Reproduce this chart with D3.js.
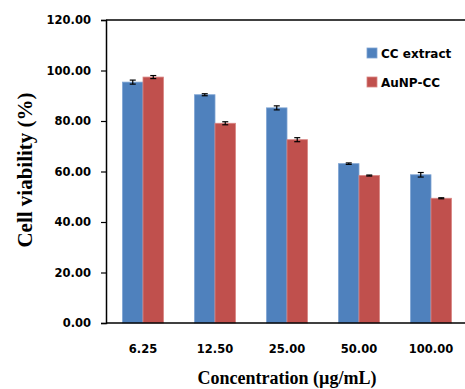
<!DOCTYPE html>
<html>
<head>
<meta charset="utf-8">
<script src="https://cdn.jsdelivr.net/npm/d3@7"></script>
<style>
  body { margin: 0; background: #fff; }
  svg { display: block; }
  .tick text { font-family: "DejaVu Sans", sans-serif; font-weight: bold; }
</style>
</head>
<body>
<div id="chart"></div>
<script>
// Data.
const concentrations = ["6.25", "12.50", "25.00", "50.00", "100.00"];
const seriesNames = ["CC extract", "AuNP-CC"];
const ccExtract = [95.4, 90.4, 85.2, 63.1, 58.7];
const ccExtractErr = [0.8, 0.4, 0.8, 0.3, 0.9];
const aunpCC = [97.4, 79.1, 72.6, 58.4, 49.4];
const aunpCCErr = [0.6, 0.6, 0.8, 0.2, 0.2];
const yTicks = [0, 20, 40, 60, 80, 100, 120];

const colors = ["#4f81bd", "#c0504d"];
const edges = ["#7ea3d3", "#d98583"];

const width = 465;
const height = 389;
const plotLeft = 106;
const plotTop = 20;
const plotBottom = 323;

const svg = d3.select("#chart")
  .append("svg")
    .attr("width", width)
    .attr("height", height);

const x = d3.scaleBand()
  .domain(concentrations)
  .range([plotLeft + 1, plotLeft + 1 + 72 * concentrations.length])
  .padding(0);

const xSub = d3.scaleBand()
  .domain(seriesNames)
  .range([15.5, 56.5]);

const y = d3.scaleLinear()
  .domain([0, 120])
  .range([plotBottom, plotTop]);

// Top border of plot area.
svg.append("line")
  .attr("x1", plotLeft).attr("x2", width)
  .attr("y1", y(120)).attr("y2", y(120))
  .attr("stroke", "#000")
  .attr("stroke-width", 1.5);

// Bars
const rows = concentrations.map((c, i) => ({
  c,
  vals: [
    { s: seriesNames[0], v: ccExtract[i], e: ccExtractErr[i], k: 0 },
    { s: seriesNames[1], v: aunpCC[i], e: aunpCCErr[i], k: 1 },
  ],
}));

const groups = svg.append("g")
  .selectAll("g")
  .data(rows)
  .join("g")
    .attr("transform", d => `translate(${x(d.c)},0)`);

groups.selectAll("rect")
  .data(d => d.vals)
  .join("rect")
    .attr("x", d => xSub(d.s))
    .attr("y", d => y(d.v))
    .attr("width", xSub.bandwidth())
    .attr("height", d => y(0) - y(d.v))
    .attr("fill", d => colors[d.k])
    .attr("stroke", d => edges[d.k])
    .attr("stroke-width", 0.8);

// Error bars
const err = groups.selectAll("g.err")
  .data(d => d.vals)
  .join("g")
    .attr("class", "err")
    .attr("stroke", "#000")
    .attr("stroke-width", 1.2);

err.append("line")
  .attr("x1", d => xSub(d.s) + xSub.bandwidth() / 2)
  .attr("x2", d => xSub(d.s) + xSub.bandwidth() / 2)
  .attr("y1", d => y(d.v + d.e))
  .attr("y2", d => y(d.v - d.e));

["+", "-"].forEach(sign => {
  err.append("line")
    .attr("x1", d => xSub(d.s) + xSub.bandwidth() / 2 - 3)
    .attr("x2", d => xSub(d.s) + xSub.bandwidth() / 2 + 3)
    .attr("y1", d => y(sign === "+" ? d.v + d.e : d.v - d.e))
    .attr("y2", d => y(sign === "+" ? d.v + d.e : d.v - d.e));
});

// Y axis
const yAxis = svg.append("g")
  .attr("transform", `translate(${plotLeft},0)`)
  .call(d3.axisLeft(y).tickValues(yTicks).tickFormat(d3.format(".2f")).tickSize(5).tickPadding(10));
yAxis.select(".domain").attr("stroke-width", 1.5);
yAxis.selectAll(".tick line").attr("stroke-width", 1.2);
yAxis.selectAll(".tick text").attr("font-size", 11.5).attr("fill", "#000");

// X axis (no ticks)
const xAxis = svg.append("g")
  .attr("transform", `translate(0,${plotBottom})`)
  .call(d3.axisBottom(x).tickSize(0).tickPadding(22));
xAxis.select(".domain")
  .attr("d", `M${plotLeft},0H${width}`)
  .attr("stroke-width", 1.5);
xAxis.selectAll(".tick text").attr("font-size", 11.5).attr("fill", "#000");

// Axis titles
svg.append("text")
  .attr("transform", `translate(32,170) rotate(-90)`)
  .attr("text-anchor", "middle")
  .attr("font-family", "Liberation Serif, serif")
  .attr("font-weight", "bold")
  .attr("font-size", 21)
  .text("Cell viability (%)");

svg.append("text")
  .attr("x", 287)
  .attr("y", 384)
  .attr("text-anchor", "middle")
  .attr("font-family", "Liberation Serif, serif")
  .attr("font-weight", "bold")
  .attr("font-size", 18)
  .text("Concentration (\u00b5g/mL)");

// Legend
const legend = svg.append("g")
  .selectAll("g")
  .data(seriesNames)
  .join("g")
    .attr("transform", (d, i) => `translate(367,${48 + i * 29})`);

legend.append("rect")
  .attr("width", 10)
  .attr("height", 10)
  .attr("fill", (d, i) => colors[i])
  .attr("stroke", (d, i) => edges[i])
  .attr("stroke-width", 0.8);

legend.append("text")
  .attr("x", 14)
  .attr("y", 9.5)
  .attr("font-family", "DejaVu Sans, sans-serif")
  .attr("font-weight", "bold")
  .attr("font-size", 12)
  .text(d => d);
</script>
</body>
</html>
